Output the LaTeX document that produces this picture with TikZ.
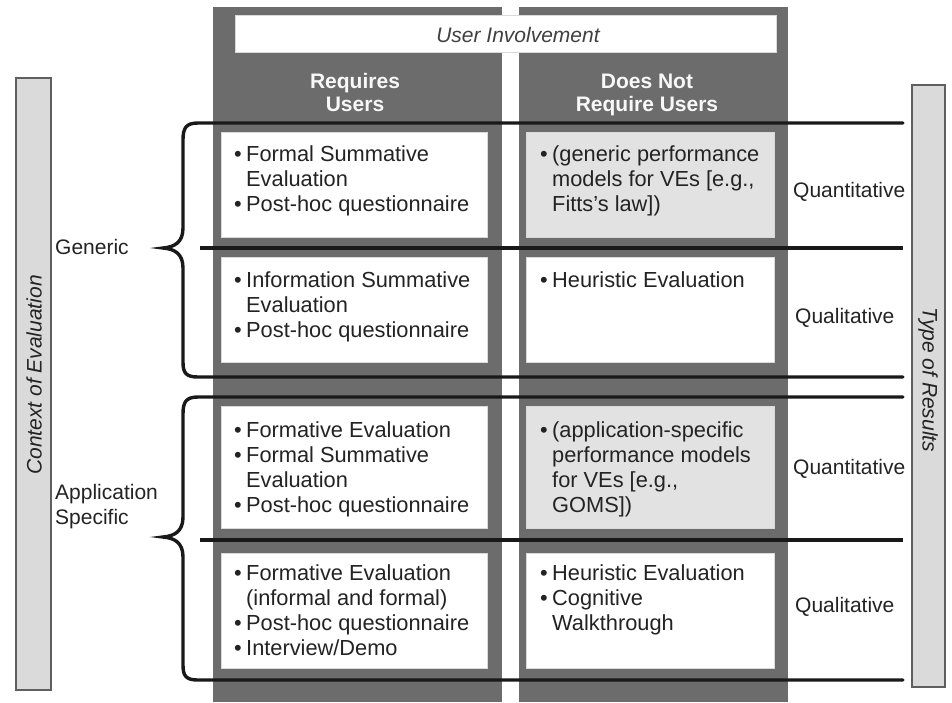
\documentclass[tikz,border=0pt]{standalone}
\usepackage{fontspec}
\setmainfont{Liberation Sans}
\definecolor{colgray}{RGB}{108,108,108}
\definecolor{shadebox}{RGB}{226,226,226}
\definecolor{barfill}{RGB}{218,218,218}
\definecolor{barline}{RGB}{95,95,95}
\definecolor{ink}{RGB}{35,35,35}
\definecolor{headink}{RGB}{248,248,248}
% bullet, continuation indent and first-line strut for the cell texts
\newcommand\bl{\makebox[12pt][l]{\textbullet}}
\newcommand\ind{\hspace*{12pt}}
\newcommand\tstrut{\rule{0pt}{16pt}}
\begin{document}
\begin{tikzpicture}[x=1pt,y=-1pt,
  txt/.style={font=\fontsize{21}{25}\selectfont, text=ink, inner sep=0},
  cell/.style={txt, font=\fontsize{21.8}{25}\selectfont, anchor=north west, align=left},
  head/.style={font=\fontsize{21}{25}\selectfont\bfseries, text=headink, inner sep=0, anchor=base},
  side/.style={txt, anchor=base west, align=left},
  rule/.style={line width=3.8pt, black!90},
  brace/.style={line width=3.4pt, black!90, line cap=round},
  bar/.style={fill=barfill, draw=barline, line width=1.4pt},
  wbox/.style={fill=white, draw=white!85!black, line width=0.6pt}]
\useasboundingbox (0,0) rectangle (952,702);

% dark column backgrounds
\fill[colgray] (213,7) rectangle (502,702);
\fill[colgray] (519,7) rectangle (788,702);

% heading box
\draw[wbox] (235,15) rectangle (776,52);
\node[txt, font=\fontsize{21}{25}\selectfont\itshape, text=black!75, anchor=base] (involve) at (518,42) {User Involvement};

% column headings
\node[head] (req1) at (355,88) {Requires};
\node[head] (req2) at (355,111) {Users};
\node[head] (nreq1) at (647,88) {Does Not};
\node[head] (nreq2) at (647,111) {Require Users};

% cell boxes
\draw[wbox] (221,132) rectangle (487,237);
\draw[wbox, fill=shadebox] (526,132) rectangle (774,237);
\draw[wbox] (221,257) rectangle (487,362);
\draw[wbox] (526,257) rectangle (774,362);
\draw[wbox] (221,406) rectangle (487,528);
\draw[wbox, fill=shadebox] (526,406) rectangle (774,528);
\draw[wbox] (221,553) rectangle (487,668);
\draw[wbox] (526,553) rectangle (774,668);

% braces with their row rules
\draw[brace] (903,123) -- (198,123) .. controls (186,123) and (183,128) .. (183,140)
  -- (183,228) .. controls (183,242) and (175,247) .. (163,248)
  .. controls (175,249) and (183,254) .. (183,268)
  -- (183,362) .. controls (183,373) and (186,377) .. (198,377) -- (903,377);
\draw[brace] (903,397) -- (198,397) .. controls (186,397) and (183,402) .. (183,414)
  -- (183,517) .. controls (183,531) and (175,536) .. (163,537)
  .. controls (175,538) and (183,543) .. (183,557)
  -- (183,665) .. controls (183,676) and (186,680) .. (198,680) -- (903,680);
\draw[rule] (200,248) -- (903,248);
\draw[rule] (200,540) -- (903,540);

% cell texts
\node[cell] (c11) at (234,145) {\tstrut\bl Formal Summative\\ \ind Evaluation\\ \bl Post-hoc questionnaire};
\node[cell] (c12) at (540,145) {\tstrut\bl (generic performance\\ \ind models for VEs [e.g.,\\ \ind Fitts's law])};
\node[cell] (c21) at (234,271) {\tstrut\bl Information Summative\\ \ind Evaluation\\ \bl Post-hoc questionnaire};
\node[cell] (c22) at (540,271) {\tstrut\bl Heuristic Evaluation};
\node[cell] (c31) at (234,421) {\tstrut\bl Formative Evaluation\\ \bl Formal Summative\\ \ind Evaluation\\ \bl Post-hoc questionnaire};
\node[cell] (c32) at (540,421) {\tstrut\bl (application-specific\\ \ind performance models\\ \ind for VEs [e.g.,\\ \ind GOMS])};
\node[cell] (c41) at (234,564) {\tstrut\bl Formative Evaluation\\ \ind (informal and formal)\\ \bl Post-hoc questionnaire\\ \bl Interview/Demo};
\node[cell] (c42) at (540,564) {\tstrut\bl Heuristic Evaluation\\ \bl Cognitive\\ \ind Walkthrough};

% row result types
\node[side] (q1) at (793,197) {Quantitative};
\node[side] (q2) at (795,323) {Qualitative};
\node[side] (q3) at (793,474) {Quantitative};
\node[side] (q4) at (795,612) {Qualitative};

% context labels
\node[side] (gen) at (55,254) {Generic};
\node[side] (app) at (55,524) {Application\\Specific};

% side bars
\draw[bar] (16,78) rectangle (51,690);
\draw[bar] (912,85) rectangle (945,687);
\node[txt, font=\fontsize{21}{25}\selectfont\itshape, rotate=90] (ctx) at (34,375) {Context of Evaluation};
\node[txt, font=\fontsize{21}{25}\selectfont\itshape, rotate=-90] (typ) at (928,380) {Type of Results};
\end{tikzpicture}
\end{document}
